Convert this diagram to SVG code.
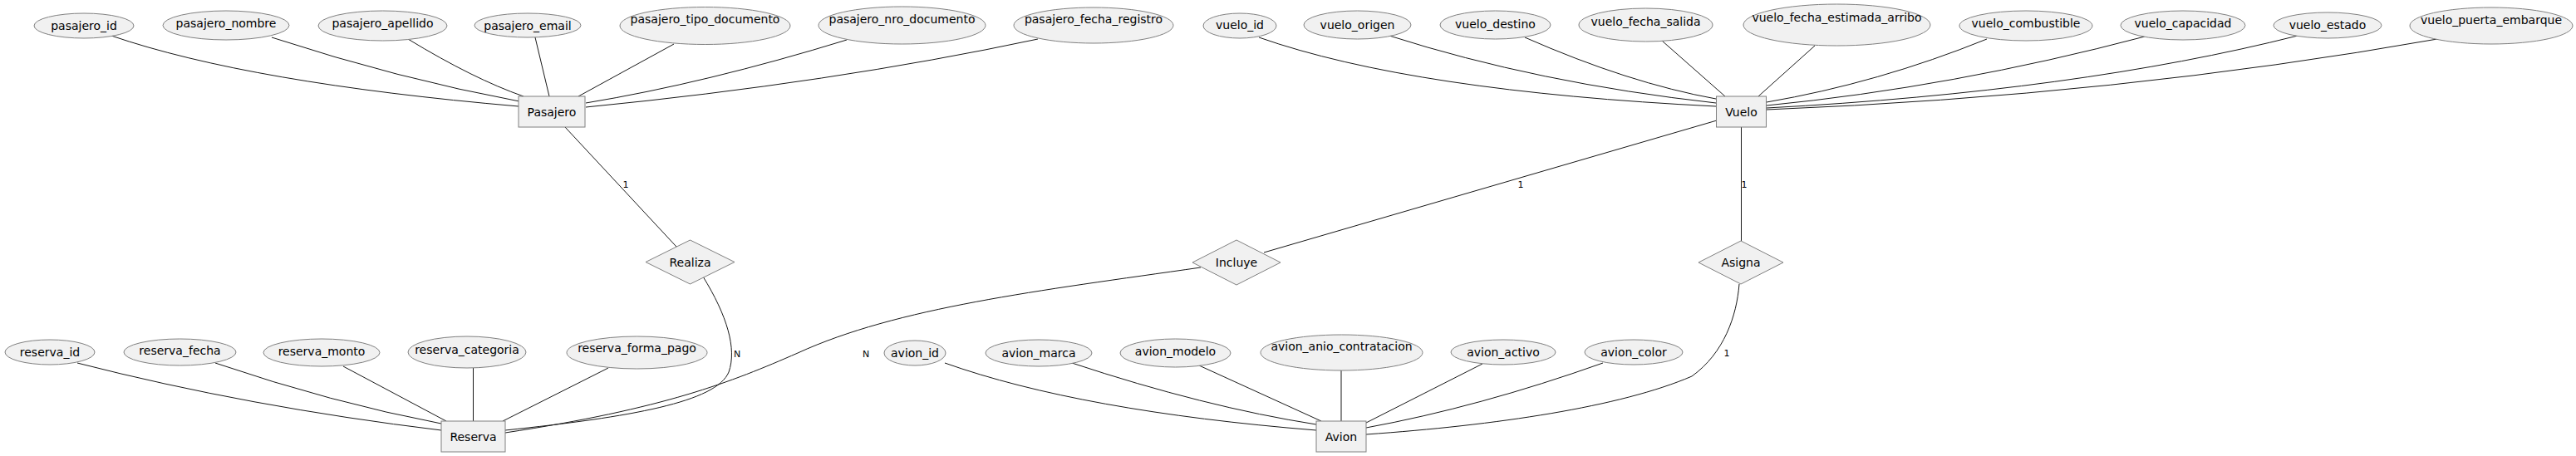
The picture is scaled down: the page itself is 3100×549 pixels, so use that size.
<svg xmlns="http://www.w3.org/2000/svg" width="3100" height="549" viewBox="0 0 3100 549">
<style>
.bg{fill:#ffffff}
.att ellipse{fill:#f1f1f1;stroke:#808080;stroke-width:1}
.ent rect{fill:#f1f1f1;stroke:#808080;stroke-width:1}
.rel polygon{fill:#f1f1f1;stroke:#808080;stroke-width:1}
text{font-family:"DejaVu Sans","Liberation Sans",sans-serif;font-size:14px;fill:#000000;text-anchor:middle;dominant-baseline:central}
.lbl{font-size:11px}
#connectors path{fill:none;stroke:#181818;stroke-width:1}
</style>
<rect class="bg" x="0" y="0" width="3100" height="549"/>
<g id="connectors">
<path d="M134,43 Q300,100 624,128"/>
<path d="M327,45 Q480,95 625,122"/>
<path d="M491,47 Q570,95 630,116"/>
<path d="M644,45 L661,116"/>
<path d="M811,53 L696,116"/>
<path d="M1019,48 Q850,100 705,124"/>
<path d="M1249,47 Q1000,100 705,129"/>
<path d="M680,153 L814,297"/>
<path d="M1515,45 Q1700,110 2065,128"/>
<path d="M1672,43 Q1850,100 2065,124"/>
<path d="M1835,45 Q1960,100 2065,119"/>
<path d="M2000,49 L2076,116"/>
<path d="M2184,55 L2116,116"/>
<path d="M2391,47 Q2260,100 2126,123"/>
<path d="M2581,44 Q2350,105 2126,127"/>
<path d="M2765,43 Q2500,110 2126,130"/>
<path d="M2933,47 Q2550,115 2126,132"/>
<path d="M2066,145 L1521,304"/>
<path d="M2095.5,153 L2095.5,290"/>
<path d="M846,333 C875,380 887,420 877,448 C862,484 760,502 608,518"/>
<path d="M1445,322 C1250,350 1080,370 960,425 C880,460 800,492 608,521"/>
<path d="M2093,342 C2090,380 2075,425 2036,453 C1950,490 1800,512 1644,523"/>
<path d="M93,437 Q300,490 531,518"/>
<path d="M259,437 Q400,485 531,510"/>
<path d="M413,441 L537,507"/>
<path d="M569.5,443 L569.5,507"/>
<path d="M732,443 L605,507"/>
<path d="M1137,437 Q1300,495 1584,518"/>
<path d="M1290,437 Q1450,490 1584,511"/>
<path d="M1443,440 L1590,507"/>
<path d="M1614,446 L1614,507"/>
<path d="M1784,438 L1644,509"/>
<path d="M1929,437 Q1780,490 1644,515"/>
</g>
<g id="connector-labels">
<text class="lbl" x="753" y="222">1</text>
<text class="lbl" x="1830" y="222">1</text>
<text class="lbl" x="2099" y="222">1</text>
<text class="lbl" x="887" y="426">N</text>
<text class="lbl" x="1042" y="426">N</text>
<text class="lbl" x="2078" y="425">1</text>
</g>
<g id="Pasajero" class="ent"><rect x="624" y="116" width="80" height="37"/><text x="664" y="135">Pasajero</text></g>
<g id="Vuelo" class="ent"><rect x="2065.5" y="116" width="60" height="37"/><text x="2095.5" y="135">Vuelo</text></g>
<g id="Reserva" class="ent"><rect x="531" y="507" width="77" height="37"/><text x="569.5" y="526">Reserva</text></g>
<g id="Avion" class="ent"><rect x="1584" y="507" width="60" height="37"/><text x="1614" y="526">Avion</text></g>
<g id="Realiza" class="rel"><polygon points="777,315.5 830.5,289 884,315.5 830.5,342"/><text x="830.5" y="315.5">Realiza</text></g>
<g id="Incluye" class="rel"><polygon points="1435,316 1488,289 1541,316 1488,343"/><text x="1488" y="316">Incluye</text></g>
<g id="Asigna" class="rel"><polygon points="2044,316 2095,290 2146,316 2095,342"/><text x="2095" y="316">Asigna</text></g>
<g id="pasajero_id" class="att"><ellipse cx="101" cy="31" rx="60" ry="15"/><text x="101" y="31">pasajero_id</text></g>
<g id="pasajero_nombre" class="att"><ellipse cx="272" cy="30.5" rx="76" ry="17.5"/><text x="272" y="28">pasajero_nombre</text></g>
<g id="pasajero_apellido" class="att"><ellipse cx="460.5" cy="31" rx="77.5" ry="18"/><text x="460.5" y="28">pasajero_apellido</text></g>
<g id="pasajero_email" class="att"><ellipse cx="635" cy="30.5" rx="64" ry="14.5"/><text x="635" y="30.5">pasajero_email</text></g>
<g id="pasajero_tipo_documento" class="att"><ellipse cx="848.5" cy="31" rx="102.5" ry="22.5"/><text x="848.5" y="23">pasajero_tipo_documento</text></g>
<g id="pasajero_nro_documento" class="att"><ellipse cx="1085.5" cy="30.5" rx="100.5" ry="22.5"/><text x="1085.5" y="23">pasajero_nro_documento</text></g>
<g id="pasajero_fecha_registro" class="att"><ellipse cx="1316" cy="30.5" rx="96" ry="21.5"/><text x="1316" y="23">pasajero_fecha_registro</text></g>
<g id="vuelo_id" class="att"><ellipse cx="1492" cy="31" rx="44" ry="15"/><text x="1492" y="30">vuelo_id</text></g>
<g id="vuelo_origen" class="att"><ellipse cx="1633.5" cy="30" rx="64.5" ry="17"/><text x="1633.5" y="30">vuelo_origen</text></g>
<g id="vuelo_destino" class="att"><ellipse cx="1799.5" cy="30" rx="66.5" ry="17"/><text x="1799.5" y="29">vuelo_destino</text></g>
<g id="vuelo_fecha_salida" class="att"><ellipse cx="1980.5" cy="30" rx="80.5" ry="20"/><text x="1980.5" y="26">vuelo_fecha_salida</text></g>
<g id="vuelo_fecha_estimada_arribo" class="att"><ellipse cx="2210.5" cy="30" rx="112.5" ry="25"/><text x="2210.5" y="21">vuelo_fecha_estimada_arribo</text></g>
<g id="vuelo_combustible" class="att"><ellipse cx="2438" cy="31" rx="80" ry="18"/><text x="2438" y="28">vuelo_combustible</text></g>
<g id="vuelo_capacidad" class="att"><ellipse cx="2627" cy="30.5" rx="75" ry="17.5"/><text x="2627" y="28">vuelo_capacidad</text></g>
<g id="vuelo_estado" class="att"><ellipse cx="2801" cy="30.5" rx="65" ry="15.5"/><text x="2801" y="30">vuelo_estado</text></g>
<g id="vuelo_puerta_embarque" class="att"><ellipse cx="2998" cy="31" rx="98" ry="22"/><text x="2998" y="24">vuelo_puerta_embarque</text></g>
<g id="reserva_id" class="att"><ellipse cx="60" cy="424" rx="54" ry="15"/><text x="60" y="424">reserva_id</text></g>
<g id="reserva_fecha" class="att"><ellipse cx="216.5" cy="424" rx="67.5" ry="16"/><text x="216.5" y="422">reserva_fecha</text></g>
<g id="reserva_monto" class="att"><ellipse cx="387" cy="424.5" rx="70" ry="16.5"/><text x="387" y="423">reserva_monto</text></g>
<g id="reserva_categoria" class="att"><ellipse cx="562" cy="424" rx="71" ry="19"/><text x="562" y="421">reserva_categoria</text></g>
<g id="reserva_forma_pago" class="att"><ellipse cx="766.5" cy="424.5" rx="84.5" ry="19.5"/><text x="766.5" y="419">reserva_forma_pago</text></g>
<g id="avion_id" class="att"><ellipse cx="1101" cy="425" rx="37" ry="15"/><text x="1101" y="425">avion_id</text></g>
<g id="avion_marca" class="att"><ellipse cx="1250" cy="425" rx="64" ry="16"/><text x="1250" y="425">avion_marca</text></g>
<g id="avion_modelo" class="att"><ellipse cx="1414.5" cy="425" rx="66.5" ry="17"/><text x="1414.5" y="423">avion_modelo</text></g>
<g id="avion_anio_contratacion" class="att"><ellipse cx="1614.5" cy="424.5" rx="97.5" ry="21.5"/><text x="1614.5" y="417">avion_anio_contratacion</text></g>
<g id="avion_activo" class="att"><ellipse cx="1809" cy="424" rx="63" ry="15"/><text x="1809" y="424">avion_activo</text></g>
<g id="avion_color" class="att"><ellipse cx="1966" cy="424" rx="59" ry="15"/><text x="1966" y="424">avion_color</text></g>
</svg>
